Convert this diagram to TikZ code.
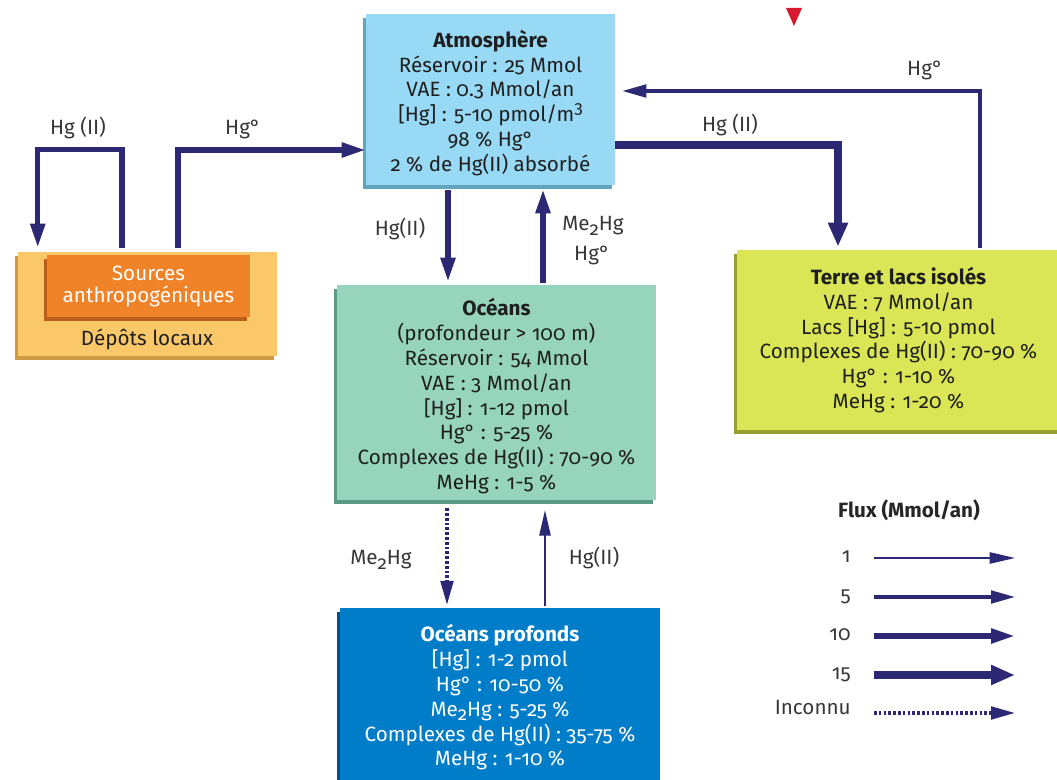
\documentclass[tikz,border=0pt]{standalone}
\usepackage{fontspec}
\setmainfont{Fira Sans}[Numbers=OldStyle]
\usetikzlibrary{arrows.meta,calc,shadows}
\definecolor{navy}{RGB}{45,40,115}
\definecolor{atmc}{RGB}{152,218,245}
\definecolor{atms}{RGB}{95,165,190}
\definecolor{depc}{RGB}{250,200,105}
\definecolor{deps}{RGB}{205,155,70}
\definecolor{srcc}{RGB}{240,130,40}
\definecolor{srcs}{RGB}{185,95,25}
\definecolor{occ}{RGB}{150,212,190}
\definecolor{ocs}{RGB}{90,155,135}
\definecolor{terc}{RGB}{218,230,85}
\definecolor{ters}{RGB}{150,160,45}
\definecolor{depoc}{RGB}{0,125,200}
\definecolor{depos}{RGB}{0,80,140}
\definecolor{labc}{RGB}{55,55,55}
\definecolor{redc}{RGB}{215,25,45}
\newcommand{\subtwo}{\raisebox{-0.4ex}{\fontsize{14}{14}\selectfont 2}}
\newcommand{\supthree}{\raisebox{0.75ex}{\fontsize{13}{13}\selectfont 3}}
\newcommand{\topstrut}[1]{\rule{0pt}{#1}}
\tikzset{
  box/.style={rectangle, inner sep=0pt, align=center,
    font=\fontsize{15.5}{18.6}\selectfont, text=black!88},
  shad/.style={drop shadow={shadow xshift=-2.5pt, shadow yshift=-3pt, fill=#1, opacity=1}},
  lab/.style={inner sep=0pt, text height=10pt, text depth=3pt,
    font=\fontsize{15.5}{18.6}\selectfont, text=labc},
  flux/.style={draw=navy, line join=miter},
  f1/.style={flux, line width=1.1pt, -{Triangle[length=19pt, width=8.5pt]}},
  f5/.style={flux, line width=2.3pt, -{Triangle[length=18pt, width=9.5pt]}},
  f10/.style={flux, line width=4pt, -{Triangle[length=18pt, width=10.5pt]}},
  f15/.style={flux, line width=5.5pt, -{Triangle[length=18pt, width=14pt]}},
  fdot/.style={flux, line width=2.4pt, dash pattern=on 2pt off 1.6pt,
    -{Triangle[length=18pt, width=9.5pt]}},
}
\begin{document}
\begin{tikzpicture}[x=0.75pt, y=-0.75pt]
\useasboundingbox (0,0) rectangle (1057,780);

% Boxes
\node[box, fill=atmc, shad=atms, minimum width=186.75pt, minimum height=128.25pt]
  (atm) at (490.5,99.5)
  {\topstrut{18pt}\textbf{Atmosphère}\\Réservoir : 25 Mmol\\VAE : 0.3 Mmol/an\\{[Hg]} : 5-10 pmol/m\supthree\\98 \% Hg°\\2 \% de Hg(II) absorbé};

\node[box, fill=depc, shad=deps, minimum width=194.25pt, minimum height=78pt]
  (depots) at (147.5,304) {};
\node[box, fill=srcc, shad=srcs, minimum width=152.25pt, minimum height=46.5pt,
  text=white, font=\fontsize{15.5}{16.5}\selectfont]
  (sources) at (148.5,286) {Sources\\anthropogéniques};
\node[box] (deptxt) at (147,339) {Dépôts locaux};

\node[box, fill=occ, shad=ocs, minimum width=239.25pt, minimum height=161.25pt]
  (oceans) at (496.5,392.5)
  {\topstrut{18.5pt}\textbf{Océans}\\(profondeur > 100 m)\\Réservoir : 54 Mmol\\VAE : 3 Mmol/an\\{[Hg]} : 1-12 pmol\\Hg° : 5-25 \%\\Complexes de Hg(II) : 70-90 \%\\MeHg : 1-5 \%};

\node[box, fill=terc, shad=ters, minimum width=242pt, minimum height=135pt]
  (terre) at (898.5,340)
  {\textbf{Terre et lacs isolés}\\VAE : 7 Mmol/an\\Lacs [Hg] : 5-10 pmol\\Complexes de Hg(II) : 70-90 \%\\Hg° : 1-10 \%\\MeHg : 1-20 \%};

\node[box, fill=depoc, shad=depos, minimum width=240pt, minimum height=134pt, text=white]
  (deep) at (500,697.5)
  {\textbf{Océans profonds}\\{[Hg]} : 1-2 pmol\\Hg° : 10-50 \%\\Me\subtwo Hg : 5-25 \%\\Complexes de Hg(II) : 35-75 \%\\MeHg : 1-10 \%};

% Red marker
\fill[redc] (786,8) -- (802,8) -- (794,26) -- cycle;

% Connectors
\draw[f10] ($(sources.north)+(-26.5,-7)$) -- ++(0,-98) -| ($(depots.north west)+(20,-4)$);
\draw[f10] ($(sources.north)+(29.5,-7)$) |- ($(atm.west)+(0,50.5)$);
\draw[f15] ($(atm.east)+(0,45.5)$) -| ($(terre.north)+(-60.5,-3)$);
\draw[f5] ($(terre.north)+(81.5,-2)$) |- ($(atm.east)+(7,-8.5)$);
\draw[f10] ($(atm.south)+(-42.5,5)$) -- ($(oceans.north)+(-48.5,-3)$);
\draw[f10] ($(oceans.north)+(46.5,-2)$) -- ($(atm.south)+(52.5,4)$);
\draw[fdot] ($(oceans.south)+(-49.5,8)$) -- ($(deep.north)+(-53,-3)$);
\draw[f1] ($(deep.north)+(45,-2)$) -- ($(oceans.south)+(48.5,10)$);

% Connector labels
\node[lab] (l1) at (78,130) {Hg (II)};
\node[lab] (l2) at (243,130) {Hg°};
\node[lab] (l3) at (730,127) {Hg (II)};
\node[lab] (l4) at (925,71) {Hg°};
\node[lab] (l5) at (400,231) {Hg(II)};
\node[lab] (l6) at (593,226) {Me\subtwo Hg};
\node[lab] (l7) at (592,256) {Hg°};
\node[lab] (l8) at (381,560) {Me\subtwo Hg};
\node[lab] (l9) at (594,560) {Hg(II)};

% Legend
\node[lab, text=black!85, font=\fontsize{15.5}{18.6}\selectfont\bfseries] (ltitle) at (909,513) {Flux (Mmol/an)};
\node[lab, anchor=east] (k1) at (851,558) {1};
\node[lab, anchor=east] (k5) at (851,597) {5};
\node[lab, anchor=east] (k10) at (851,636) {10};
\node[lab, anchor=east] (k15) at (851,675) {15};
\node[lab, anchor=east] (kin) at (851,710) {Inconnu};
\coordinate (e1) at (1015,558);
\coordinate (e5) at (1015,597);
\coordinate (e10) at (1015,636);
\coordinate (e15) at (1015,675);
\coordinate (ein) at (1015,713);
\draw[f1] ($(k1.east)+(23,0)$) -- (e1);
\draw[f5] ($(k5.east)+(23,0)$) -- (e5);
\draw[f10] ($(k10.east)+(23,0)$) -- (e10);
\draw[f15] ($(k15.east)+(23,0)$) -- (e15);
\draw[fdot] ($(kin.east)+(23,3)$) -- (ein);
\end{tikzpicture}
\end{document}
